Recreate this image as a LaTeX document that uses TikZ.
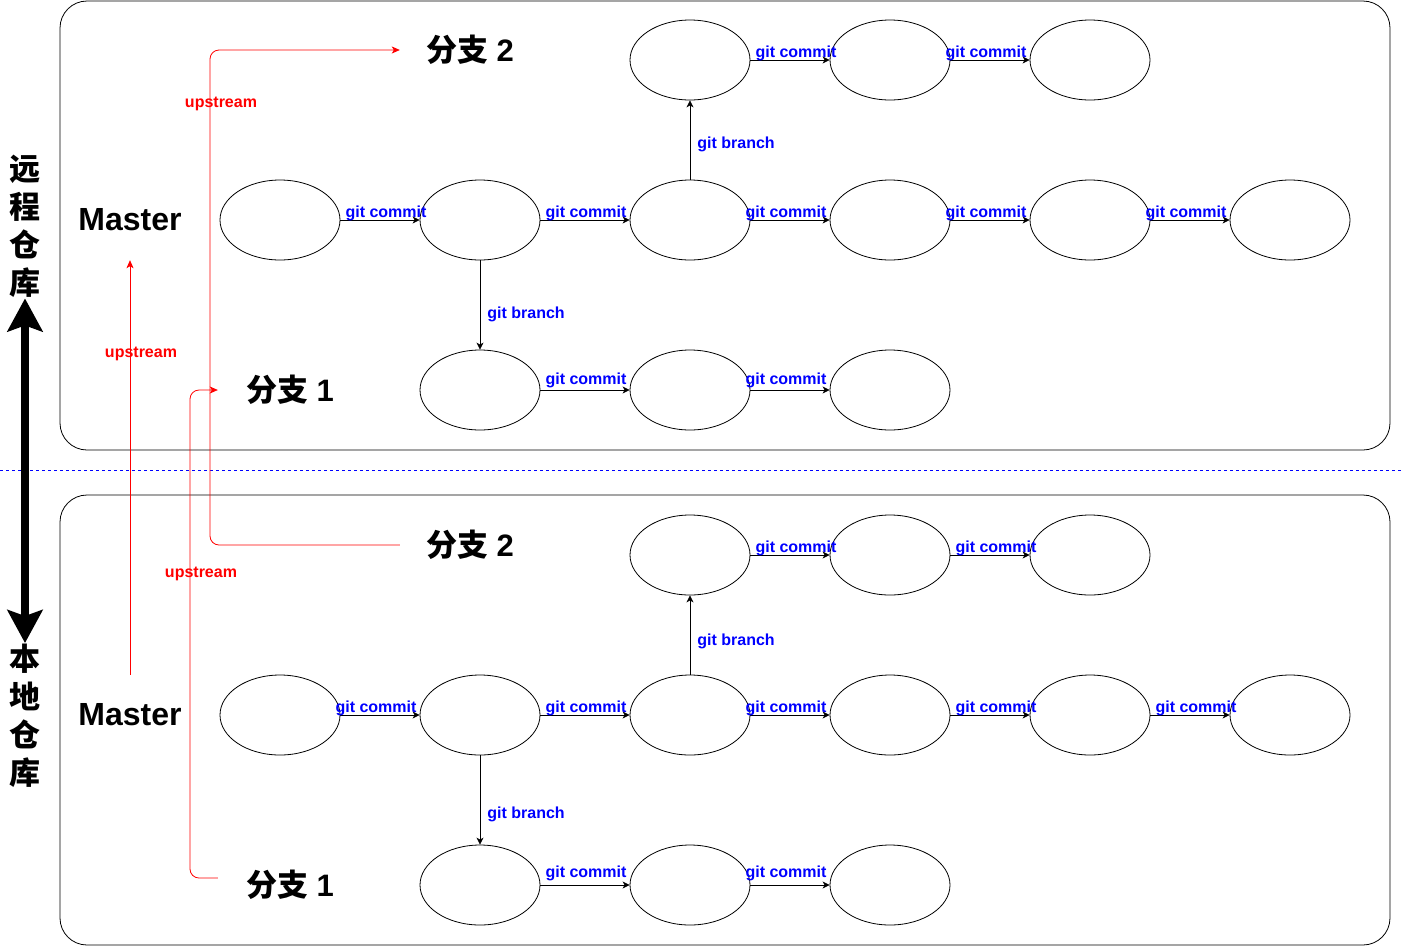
\documentclass[tikz,border=0pt]{standalone}
\usepackage{fontspec}
\setmainfont{Liberation Sans}
\newfontfamily\cjk{Noto Sans CJK SC}
\usetikzlibrary{shapes.geometric,arrows.meta,calc}
\begin{document}
\begin{tikzpicture}[x=1pt,y=-1pt,
  commit/.style={ellipse,draw,line width=0.8pt,minimum width=120pt,minimum height=80pt,inner sep=0pt},
  flow/.style={draw,line width=0.8pt,-{Stealth[length=7pt,width=7pt,inset=2pt]}},
  cl/.style={text=blue,font=\bfseries\fontsize{16}{18}\selectfont,inner sep=0pt,anchor=base,yshift=3pt},
  bl/.style={text=blue,font=\bfseries\fontsize{16}{18}\selectfont,inner sep=0pt,anchor=west,xshift=7pt},
  up/.style={draw=red,line width=0.8pt,rounded corners=9pt,-{Stealth[length=8pt,width=7pt,inset=2pt]}},
  ul/.style={text=red,font=\bfseries\fontsize{16}{18}\selectfont,inner sep=0pt},
  master/.style={font=\bfseries\fontsize{32}{36}\selectfont,minimum height=80pt,inner sep=0pt},
  branch/.style={font=\bfseries\fontsize{31}{36}\selectfont,inner sep=0pt},
  side/.style={font=\cjk\bfseries\fontsize{31}{38}\selectfont,align=center,inner sep=0pt},
  repo/.style={draw,line width=0.8pt,rounded corners=27pt}
]
\useasboundingbox (0,0) rectangle (1402,946);
\fill[white] (0,0) rectangle (1402,946);

% repository frames
\draw[repo] (60,1) rectangle (1390,450);
\draw[repo] (60,495) rectangle (1390,945);
\draw[blue,line width=0.6pt,dash pattern=on 3pt off 3pt] (0,470) -- (1402,470);

% side labels and big arrow
\node[side] (vR) at (25,226) {远\\程\\仓\\库};
\node[side] (vL) at (25,716) {本\\地\\仓\\库};
\draw[line width=8pt,{Stealth[length=33pt,width=35pt,inset=6pt]}-{Stealth[length=33pt,width=35pt,inset=6pt]}] ([yshift=-1pt]vR.south) -- ([yshift=1pt]vL.north);

% ===== remote =====
\node[master] (mR) at (130,220) {Master};
\node[branch,minimum width=140pt] (b2R) at (470,50) {{\cjk 分支} 2};
\node[branch,minimum width=144pt] (b1R) at (290,390) {{\cjk 分支} 1};

\node[commit] (rt1) at (690,60) {};
\node[commit] (rt2) at (890,60) {};
\node[commit] (rt3) at (1090,60) {};
\node[commit] (rm1) at (280,220) {};
\node[commit] (rm2) at (480,220) {};
\node[commit] (rm3) at (690,220) {};
\node[commit] (rm4) at (890,220) {};
\node[commit] (rm5) at (1090,220) {};
\node[commit] (rm6) at (1290,220) {};
\node[commit] (rb1) at (480,390) {};
\node[commit] (rb2) at (690,390) {};
\node[commit] (rb3) at (890,390) {};

\draw[flow] (rt1) -- node[cl,xshift=6pt] {git commit} (rt2);
\draw[flow] (rt2) -- node[cl,xshift=-4pt] {git commit} (rt3);
\draw[flow] (rm1) -- node[cl,xshift=6pt] {git commit} (rm2);
\draw[flow] (rm2) -- node[cl,xshift=1pt] {git commit} (rm3);
\draw[flow] (rm3) -- node[cl,xshift=-4pt] {git commit} (rm4);
\draw[flow] (rm4) -- node[cl,xshift=-4pt] {git commit} (rm5);
\draw[flow] (rm5) -- node[cl,xshift=-4pt] {git commit} (rm6);
\draw[flow] (rb1) -- node[cl,xshift=1pt,yshift=3pt] {git commit} (rb2);
\draw[flow] (rb2) -- node[cl,xshift=-4pt,yshift=3pt] {git commit} (rb3);
\draw[flow] (rm3) -- node[bl,yshift=-4pt] {git branch} (rt1);
\draw[flow] (rm2) -- node[bl,yshift=-9pt] {git branch} (rb1);

% ===== local =====
\node[master] (mL) at (130,715) {Master};
\node[branch,minimum width=140pt] (b2L) at (470,545) {{\cjk 分支} 2};
\node[branch,minimum width=144pt] (b1L) at (290,885) {{\cjk 分支} 1};

\node[commit] (lt1) at (690,555) {};
\node[commit] (lt2) at (890,555) {};
\node[commit] (lt3) at (1090,555) {};
\node[commit] (lm1) at (280,715) {};
\node[commit] (lm2) at (480,715) {};
\node[commit] (lm3) at (690,715) {};
\node[commit] (lm4) at (890,715) {};
\node[commit] (lm5) at (1090,715) {};
\node[commit] (lm6) at (1290,715) {};
\node[commit] (lb1) at (480,885) {};
\node[commit] (lb2) at (690,885) {};
\node[commit] (lb3) at (890,885) {};

\draw[flow] (lt1) -- node[cl,xshift=6pt] {git commit} (lt2);
\draw[flow] (lt2) -- node[cl,xshift=6pt] {git commit} (lt3);
\draw[flow] (lm1) -- node[cl,xshift=-4pt] {git commit} (lm2);
\draw[flow] (lm2) -- node[cl,xshift=1pt] {git commit} (lm3);
\draw[flow] (lm3) -- node[cl,xshift=-4pt] {git commit} (lm4);
\draw[flow] (lm4) -- node[cl,xshift=6pt] {git commit} (lm5);
\draw[flow] (lm5) -- node[cl,xshift=6pt] {git commit} (lm6);
\draw[flow] (lb1) -- node[cl,xshift=1pt,yshift=5pt] {git commit} (lb2);
\draw[flow] (lb2) -- node[cl,xshift=-4pt,yshift=5pt] {git commit} (lb3);
\draw[flow] (lm3) -- node[bl,yshift=-6pt] {git branch} (lt1);
\draw[flow] (lm2) -- node[bl,yshift=-14pt] {git branch} (lb1);

% ===== upstream links =====
\draw[up] (mL.north) -- (mR.south);
\draw[up] ([yshift=7pt]b1L.west) -| (190,390) -- (b1R.west);
\draw[up] (b2L.west) -| (210,50) -- (b2R.west);
\node[ul] (u1) at (221,104) {upstream};
\node[ul] (u2) at (141,354) {upstream};
\node[ul] (u3) at (201,574) {upstream};
\end{tikzpicture}
\end{document}
